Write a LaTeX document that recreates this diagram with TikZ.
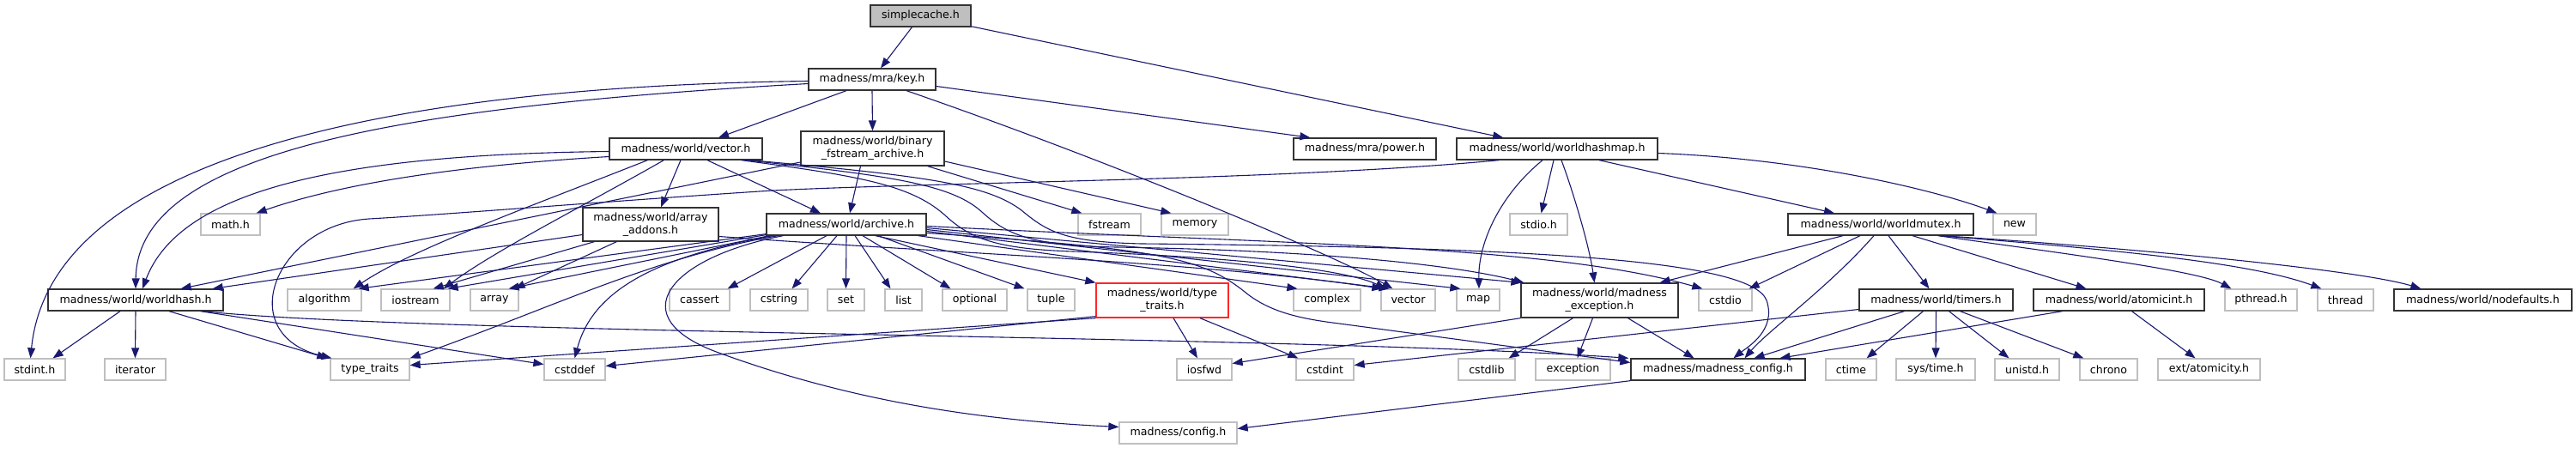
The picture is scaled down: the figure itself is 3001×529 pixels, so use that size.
\documentclass[tikz,border=0pt]{standalone}
\usepackage{fontspec}
\setmainfont{DejaVu Sans}
\usetikzlibrary{arrows.meta,calc}
\definecolor{edgec}{HTML}{191970}
\tikzset{
 n/.style={draw=black!80, line width=1.3pt, fill=white, minimum height=25pt, inner sep=0pt, font=\fontsize{12.6}{14.7}\selectfont, align=center, text=black},
 g/.style={n, draw=gray!50},
 two/.style={minimum height=40pt},
 e/.style={draw=edgec, line width=1.1pt, -{Triangle[length=12pt,width=9pt]}},
}
\begin{document}
\begin{tikzpicture}[x=1pt,y=-1pt]
\fill[white] (0,0) rectangle (3001,529);
\useasboundingbox (0,0) rectangle (3001,529);
% row 0
\node[n, fill=gray!50, minimum width=117] (simple) at (1072.5,18.5) {simplecache.h};
% row 1
\node[n, minimum width=148] (key) at (1016,92.5) {madness/mra/key.h};
% row 2
\node[n, two, minimum width=167] (bfa) at (1016.5,173) {madness/world/binary\\\_fstream\_archive.h};
\node[n, minimum width=178] (vech) at (799,173.5) {madness/world/vector.h};
\node[n, minimum width=166] (power) at (1590,173.5) {madness/mra/power.h};
\node[n, minimum width=234] (whm) at (1814,173.5) {madness/world/worldhashmap.h};
% row 3
\node[g, minimum width=69] (mathh) at (268.5,261.5) {math.h};
\node[n, minimum width=158, minimum height=39pt] (addons) at (758,261.5) {madness/world/array\\\_addons.h};
\node[n, minimum width=186] (archive) at (986,261.5) {madness/world/archive.h};
\node[g, minimum width=73] (fstream) at (1292.5,261.5) {fstream};
\node[g, minimum width=78] (memory) at (1392,261.5) {memory};
\node[g, minimum width=67] (stdioh) at (1792.5,261.5) {stdio.h};
\node[n, minimum width=216] (wmutex) at (2191,261.5) {madness/world/worldmutex.h};
\node[g, minimum width=50] (snew) at (2347,261.5) {new};
% row 4
\node[n, minimum width=204] (whash) at (158,349.5) {madness/world/worldhash.h};
\node[g, minimum width=86] (algorithm) at (378,349.5) {algorithm};
\node[g, minimum width=80] (iostream) at (484,349.5) {iostream};
\node[g, minimum width=56] (array) at (576,349.5) {array};
\node[g, minimum width=70] (cassert) at (815,349.5) {cassert};
\node[g, minimum width=67] (cstring) at (907.5,349.5) {cstring};
\node[g, minimum width=43] (sset) at (985.5,349.5) {set};
\node[g, minimum width=43] (slist) at (1052.5,349.5) {list};
\node[g, minimum width=75] (optional) at (1135.5,349.5) {optional};
\node[g, minimum width=55] (tuple) at (1224.5,349.5) {tuple};
\node[n, two, draw=red!85!white, minimum width=154] (mtt) at (1354,350) {madness/world/type\\\_traits.h};
\node[g, minimum width=78] (complex) at (1546,349.5) {complex};
\node[g, minimum width=63] (svector) at (1640.5,349.5) {vector};
\node[g, minimum width=50] (smap) at (1722,349.5) {map};
\node[n, two, minimum width=183] (mexc) at (1863.5,350) {madness/world/madness\\\_exception.h};
\node[g, minimum width=62] (cstdio) at (2010,349.5) {cstdio};
\node[n, minimum width=179] (timers) at (2255.5,349.5) {madness/world/timers.h};
\node[n, minimum width=199] (atomicint) at (2468.5,349.5) {madness/world/atomicint.h};
\node[g, minimum width=84] (pthread) at (2634,349.5) {pthread.h};
\node[g, minimum width=65] (thread) at (2732.5,349.5) {thread};
\node[n, minimum width=207] (nodef) at (2892.5,349.5) {madness/world/nodefaults.h};
% row 5
\node[g, minimum width=71] (stdinth) at (40.5,430.5) {stdint.h};
\node[g, minimum width=71] (iterator) at (157.5,430.5) {iterator};
\node[g, minimum width=92] (stype) at (431,430.5) {type\_traits};
\node[g, minimum width=71] (cstddef) at (669.5,430.5) {cstddef};
\node[g, minimum width=64] (iosfwd) at (1403,430.5) {iosfwd};
\node[g, minimum width=67] (cstdint) at (1543.5,430.5) {cstdint};
\node[g, minimum width=66] (cstdlib) at (1732,430.5) {cstdlib};
\node[g, minimum width=87] (exception) at (1832.5,430.5) {exception};
\node[n, minimum width=203] (mcfg) at (2001.5,430.5) {madness/madness\_config.h};
\node[g, minimum width=59] (ctime) at (2156.5,430.5) {ctime};
\node[g, minimum width=92] (systime) at (2255,430.5) {sys/time.h};
\node[g, minimum width=75] (unistd) at (2361.5,430.5) {unistd.h};
\node[g, minimum width=67] (chrono) at (2456.5,430.5) {chrono};
\node[g, minimum width=119] (atomicity) at (2573.5,430.5) {ext/atomicity.h};
% row 6
\node[g, minimum width=137] (config) at (1372.5,504.5) {madness/config.h};

% ---- edges ----
% simplecache
\draw[e] (simple) -- (key);
\draw[e] (simple) -- (whm);
% key
\draw[e] ($(key.west)+(0,2)$) .. controls (500,100) and (60,170) .. ($(stdinth.north)+(-5,0)$);
\draw[e] ($(key.west)+(0,5)$) .. controls (450,125) and (160,180) .. (whash.north);
\draw[e] ($(key.south)+(-30,0)$) -- ($(vech.north)+(38,0)$);
\draw[e] (key.south) -- (bfa.north);
\draw[e] ($(key.east)+(0,8)$) -- ($(power.north west)+(20,0)$);
\draw[e] ($(key.south)+(40,0)$) .. controls (1300,190) and (1560,300) .. ($(svector.north west)+(14,0)$);
% vector.h
\draw[e] ($(vech.west)+(0,3)$) .. controls (400,180) and (210,220) .. ($(whash.north)+(8,0)$);
\draw[e] ($(vech.west)+(0,9)$) .. controls (500,195) and (380,220) .. ($(mathh.north east)+(-5,0)$);
\draw[e] ($(vech.south west)+(45,0)$) .. controls (620,240) and (480,290) .. ($(algorithm.north east)+(-10,0)$);
\draw[e] ($(vech.south west)+(64,0)$) .. controls (680,240) and (580,290) .. ($(iostream.north east)+(-8,0)$);
\draw[e] ($(vech.south)+(-6,0)$) -- ($(addons.north)+(12,0)$);
\draw[e] ($(vech.south)+(25,0)$) -- ($(archive.north)+(-30,0)$);
\draw[e] ($(vech.south east)+(-25,0)$) .. controls (1000,205) and (1060,215) .. (1100,250) .. controls (1130,278) and (1160,290) .. (1250,293) .. controls (1450,300) and (1570,315) .. ($(svector.north west)+(6,0)$);
\draw[e] ($(vech.south east)+(-20,0)$) .. controls (1040,205) and (1110,215) .. (1145,248) .. controls (1175,275) and (1205,286) .. (1300,288) .. controls (1550,292) and (1700,310) .. ($(mexc.north west)+(4,0)$);
\draw[e] ($(vech.south east)+(-15,0)$) .. controls (1080,205) and (1150,215) .. (1190,245) .. controls (1220,270) and (1240,282) .. (1330,284) .. controls (1750,288) and (2040,300) .. (2058,350) .. controls (2070,385) and (2035,405) .. ($(mcfg.north)+(18,0)$);
% binary_fstream_archive
\draw[e] ($(bfa.south)+(-14,0)$) -- ($(archive.north)+(4,0)$);
\draw[e] ($(bfa.south east)+(-20,0)$) -- ($(fstream.north west)+(5,0)$);
\draw[e] ($(bfa.east)+(0,15)$) -- ($(memory.north west)+(12,0)$);
\draw[e] ($(bfa.west)+(0,16)$) -- ($(whash.north east)+(-50,0)$);
% array_addons
\draw[e] ($(addons.west)+(0,12)$) -- ($(whash.north east)+(-13,0)$);
\draw[e] ($(addons.south west)+(14,0)$) -- ($(iostream.north east)+(-20,0)$);
\draw[e] ($(addons.south west)+(40,0)$) -- ($(array.north east)+(-5,0)$);
\draw[e] ($(addons.east)+(0,14)$) .. controls (1100,295) and (1400,305) .. ($(svector.north west)+(2,0)$);
% archive
\draw[e] ($(archive.south west)+(0,-2)$) -- ($(algorithm.north east)+(-4,0)$);
\draw[e] ($(archive.south west)+(0,-1)$) -- ($(iostream.north east)+(-3,0)$);
\draw[e] ($(archive.south west)+(4,0)$) -- ($(array.north east)+(-12,0)$);
\draw[e] ($(archive.south west)+(8,0)$) .. controls (760,300) and (690,340) .. (cstddef.north);
\draw[e] ($(archive.south west)+(14,0)$) .. controls (760,300) and (640,360) .. (stype.north east);
\draw[e] ($(archive.south west)+(20,0)$) .. controls (780,300) and (720,370) .. (840,412) .. controls (1000,470) and (1150,490) .. ($(config.west)+(0,-7)$);
\draw[e] ($(archive.south)+(-23,0)$) -- ($(cassert.north east)+(-3,0)$);
\draw[e] ($(archive.south)+(-11,0)$) -- ($(cstring.north east)+(-19,0)$);
\draw[e] (archive.south) -- (sset.north);
\draw[e] ($(archive.south)+(10,0)$) -- ($(slist.north)+(-15,0)$);
\draw[e] ($(archive.south)+(19,0)$) -- ($(optional.north)+(-28,0)$);
\draw[e] ($(archive.south)+(37,0)$) -- ($(tuple.north)+(-31,0)$);
\draw[e] ($(archive.south east)+(-60,0)$) -- (mtt.north west);
\draw[e] ($(archive.south east)+(-10,0)$) -- ($(complex.north west)+(5,0)$);
\draw[e] ($(archive.east)+(0,8)$) -- ($(svector.north west)+(10,0)$);
\draw[e] ($(archive.east)+(0,6)$) -- ($(smap.north west)+(5,0)$);
\draw[e] ($(archive.east)+(0,4)$) -- ($(mexc.north west)+(1,0)$);
\draw[e] ($(archive.east)+(0,2)$) .. controls (1500,285) and (1800,285) .. ($(cstdio.north west)+(5,0)$);
\draw[e] ($(archive.east)+(0,10)$) .. controls (1350,290) and (1400,300) .. (1450,340) .. controls (1480,365) and (1520,372) .. (1560,377) -- ($(mcfg.west)+(0,-8)$);
% worldhashmap
\draw[e] ($(whm.south west)+(50,0)$) .. controls (1500,210) and (1100,212) .. (900,222) .. controls (700,235) and (520,250) .. (430,255) .. controls (320,262) and (270,390) .. ($(stype.north west)+(2,0)$);
\draw[e] ($(whm.south)+(-17,0)$) .. controls (1750,225) and (1722,280) .. ($(smap.north)+(1,0)$);
\draw[e] ($(whm.south)+(-4,0)$) -- ($(stdioh.north)+(3,0)$);
\draw[e] ($(whm.south)+(5,0)$) .. controls (1835,230) and (1852,290) .. ($(mexc.north)+(-6,0)$);
\draw[e] ($(whm.south)+(49,0)$) -- ($(wmutex.north)+(-54,0)$);
\draw[e] ($(whm.east)+(0,5)$) .. controls (2100,185) and (2250,220) .. ($(snew.north west)+(5,0)$);
% worldmutex
\draw[e] ($(wmutex.south)+(-44,0)$) -- ($(mexc.north east)+(-22,0)$);
\draw[e] ($(wmutex.south)+(-24,0)$) -- ($(cstdio.north east)+(-4,0)$);
\draw[e] ($(wmutex.south)+(-8,0)$) .. controls (2130,335) and (2060,385) .. ($(mcfg.north)+(31,0)$);
\draw[e] ($(wmutex.south)+(9,0)$) -- ($(timers.north)+(-8,0)$);
\draw[e] ($(wmutex.south)+(37,0)$) -- ($(atomicint.north)+(-38,0)$);
\draw[e] ($(wmutex.south east)+(-42,0)$) .. controls (2400,295) and (2560,315) .. ($(pthread.north west)+(8,0)$);
\draw[e] ($(wmutex.south east)+(-40,0)$) .. controls (2450,290) and (2620,305) .. ($(thread.north west)+(5,0)$);
\draw[e] ($(wmutex.south east)+(-38,0)$) .. controls (2500,290) and (2750,315) .. ($(nodef.north west)+(32,0)$);
% timers
\draw[e] ($(timers.south)+(-37,0)$) -- ($(mcfg.north)+(42,0)$);
\draw[e] ($(timers.south)+(-15,0)$) -- ($(ctime.north east)+(-12,0)$);
\draw[e] (timers.south) -- (systime.north);
\draw[e] ($(timers.south)+(15,0)$) -- ($(unistd.north)+(-21,0)$);
\draw[e] ($(timers.south)+(28,0)$) -- ($(chrono.north west)+(5,0)$);
\draw[e] ($(timers.west)+(0,11)$) -- ($(cstdint.east)+(0,-5)$);
% atomicint
\draw[e] ($(atomicint.south)+(-66,0)$) -- ($(mcfg.north)+(72,0)$);
\draw[e] ($(atomicint.south)+(15,0)$) -- ($(atomicity.north)+(-16,0)$);
% madness_exception
\draw[e] ($(mexc.south)+(-31,0)$) -- ($(cstdlib.north east)+(-8,0)$);
\draw[e] ($(mexc.south)+(-8,0)$) -- ($(exception.north)+(5,0)$);
\draw[e] ($(mexc.south)+(33,0)$) -- ($(mcfg.north)+(-28,0)$);
\draw[e] (mexc.south west) -- ($(iosfwd.east)+(0,-7)$);
% type_traits.h
\draw[e] ($(mtt.south)+(13,0)$) -- ($(iosfwd.north)+(-8,0)$);
\draw[e] ($(mtt.south)+(44,0)$) -- ($(cstdint.north west)+(3,0)$);
\draw[e] (mtt.south west) -- ($(stype.east)+(0,-5)$);
\draw[e] ($(mtt.south west)+(0,-2)$) -- ($(cstddef.east)+(0,-4)$);
% worldhash
\draw[e] ($(whash.south)+(-18,0)$) -- ($(stdinth.north east)+(-15,0)$);
\draw[e] (whash.south) -- (iterator.north);
\draw[e] ($(whash.south)+(39,0)$) -- ($(stype.north west)+(-3,0)$);
\draw[e] ($(whash.south east)+(-27,0)$) -- ($(cstddef.west)+(0,-6)$);
\draw[e] ($(whash.south east)+(-25,0)$) .. controls (500,390) and (1500,390) .. ($(mcfg.north west)+(-2,0)$);
% madness_config
\draw[e] (mcfg.south west) -- ($(config.east)+(0,-5)$);
\end{tikzpicture}
\end{document}
